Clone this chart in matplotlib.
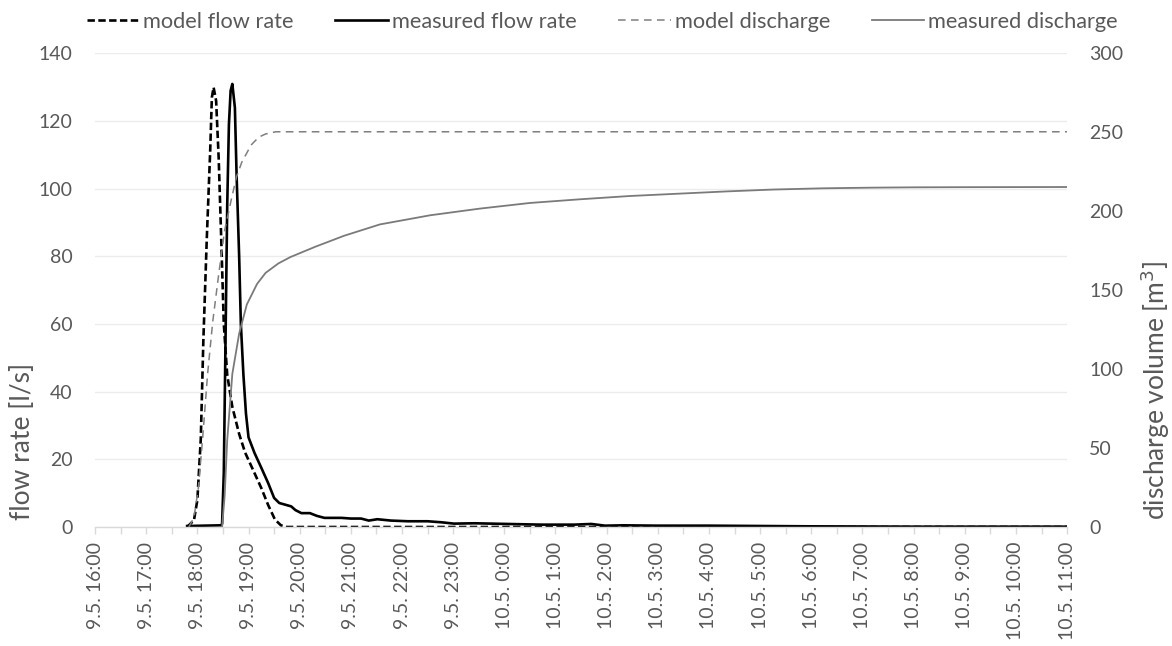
import matplotlib
matplotlib.use("Agg")
import matplotlib.pyplot as plt
import matplotlib.dates as mdates
from matplotlib.ticker import FuncFormatter
import pandas as pd

TIME_FMT = "%d.%m. %H:%M"

# --- flow rate [l/s] -------------------------------------------------------
model_flow_time = [
    "9.5. 17:48", "9.5. 17:56", "9.5. 18:00", "9.5. 18:04", "9.5. 18:07",
    "9.5. 18:11", "9.5. 18:15", "9.5. 18:17", "9.5. 18:19", "9.5. 18:22",
    "9.5. 18:25", "9.5. 18:28", "9.5. 18:31", "9.5. 18:35", "9.5. 18:41",
    "9.5. 18:49", "9.5. 18:56", "9.5. 19:06", "9.5. 19:15", "9.5. 19:23",
    "9.5. 19:31", "9.5. 19:38", "9.5. 19:45", "10.5. 11:00",
]
model_flow = [
    0, 2, 8, 26, 55,
    85, 111, 127, 130, 126,
    109, 85, 60, 45, 35.5,
    27.5, 22, 16.5, 11.5, 6.5,
    2.2, 0.5, 0, 0,
]

measured_flow_time = [
    "9.5. 17:48", "9.5. 18:28", "9.5. 18:29", "9.5. 18:31", "9.5. 18:33",
    "9.5. 18:35", "9.5. 18:37", "9.5. 18:39", "9.5. 18:41", "9.5. 18:44",
    "9.5. 18:46", "9.5. 18:49", "9.5. 18:51", "9.5. 18:54", "9.5. 18:57",
    "9.5. 19:00", "9.5. 19:07", "9.5. 19:15", "9.5. 19:23", "9.5. 19:30",
    "9.5. 19:36", "9.5. 19:43", "9.5. 19:50", "9.5. 19:55", "9.5. 20:02",
    "9.5. 20:12", "9.5. 20:20", "9.5. 20:29", "9.5. 20:49", "9.5. 21:00",
    "9.5. 21:12", "9.5. 21:21", "9.5. 21:31", "9.5. 21:47", "9.5. 22:07",
    "9.5. 22:30", "9.5. 22:46", "9.5. 23:01", "9.5. 23:25", "10.5. 00:04",
    "10.5. 00:43", "10.5. 01:22", "10.5. 01:42", "10.5. 01:58", "10.5. 02:20",
    "10.5. 02:59", "10.5. 04:00", "10.5. 05:00", "10.5. 06:00", "10.5. 07:00",
    "10.5. 08:00", "10.5. 11:00",
]
measured_flow = [
    0.3, 0.5, 1, 16, 55,
    95, 119, 129, 131, 124,
    104, 80, 60, 45, 33.5,
    26.5, 21.9, 17.5, 13, 8.6,
    7.1, 6.6, 6.1, 5, 4.1,
    4.1, 3.3, 2.7, 2.7, 2.5,
    2.5, 1.9, 2.3, 1.9, 1.7,
    1.7, 1.4, 1.0, 1.1, 0.9,
    0.7, 0.7, 0.9, 0.4, 0.5,
    0.4, 0.4, 0.3, 0.2, 0.15,
    0.1, 0.1,
]

# --- discharge volume [m3] -------------------------------------------------
model_volume_time = [
    "9.5. 17:50", "9.5. 17:56", "9.5. 18:01", "9.5. 18:06", "9.5. 18:12",
    "9.5. 18:18", "9.5. 18:25", "9.5. 18:32", "9.5. 18:40", "9.5. 18:46",
    "9.5. 18:52", "9.5. 19:03", "9.5. 19:12", "9.5. 19:20", "9.5. 19:32",
    "10.5. 11:00",
]
model_volume = [
    0, 6, 24, 55, 97,
    130, 160, 188, 208, 222,
    231, 242, 247, 249, 250.4,
    250.4,
]

measured_volume_time = [
    "9.5. 18:29", "9.5. 18:32", "9.5. 18:35", "9.5. 18:41", "9.5. 18:49",
    "9.5. 18:58", "9.5. 19:10", "9.5. 19:20", "9.5. 19:35", "9.5. 19:49",
    "9.5. 20:18", "9.5. 20:52", "9.5. 21:34", "9.5. 22:33", "9.5. 23:31",
    "10.5. 00:30", "10.5. 01:28", "10.5. 02:27", "10.5. 03:25", "10.5. 04:20",
    "10.5. 05:15", "10.5. 06:15", "10.5. 07:12", "10.5. 08:00", "10.5. 09:00",
    "10.5. 11:00",
]
measured_volume = [
    0, 20, 55, 97, 122.5,
    141, 154, 161, 167, 171,
    177.5, 184.5, 191.7, 197.5, 201.7,
    205.3, 207.6, 209.7, 211.2, 212.6,
    213.8, 214.6, 215, 215.2, 215.3,
    215.4,
]

x_start, x_end = "9.5. 16:00", "10.5. 11:00"

series_labels = ["model flow rate", "measured flow rate",
                 "model discharge", "measured discharge"]


def to_time(values):
    return pd.to_datetime(values, format=TIME_FMT)


TEXT = "#595959"
plt.rcParams["font.family"] = ["Lato", "DejaVu Sans"]

fig = plt.figure(figsize=(11.72, 6.46), dpi=100)
ax = fig.add_axes([0.0811, 0.1842, 0.8294, 0.7330])
ax2 = ax.twinx()

l1, = ax.plot(to_time(model_flow_time), model_flow, color="black", lw=1.9,
              linestyle=(0, (2.8, 1.3)), label=series_labels[0])
l2, = ax.plot(to_time(measured_flow_time), measured_flow, color="black", lw=1.9,
              label=series_labels[1])
l3, = ax2.plot(to_time(model_volume_time), model_volume, color="#7f7f7f", lw=1.1,
               linestyle=(0, (5, 3.5)), label=series_labels[2])
l4, = ax2.plot(to_time(measured_volume_time), measured_volume, color="#7a7a7a",
               lw=1.3, label=series_labels[3])

# axes limits and ticks
ax.set_xlim(to_time([x_start])[0], to_time([x_end])[0])
ax.set_ylim(0, 140)
ax.set_yticks(range(0, 141, 20))
ax2.set_ylim(0, 300)
ax2.set_yticks(range(0, 301, 50))

ax.xaxis.set_major_locator(mdates.HourLocator())
ax.xaxis.set_minor_locator(mdates.MinuteLocator(byminute=[30]))


def fmt_time(v, _pos):
    d = mdates.num2date(v)
    return f"{d.day}.{d.month}. {d.hour}:{d.minute:02d}"


ax.xaxis.set_major_formatter(FuncFormatter(fmt_time))

ax.set_axisbelow(True)
ax.yaxis.grid(True, color="#ececec", lw=1.0)

for a in (ax, ax2):
    for side in ("left", "right", "top", "bottom"):
        a.spines[side].set_visible(False)
ax.spines["bottom"].set_visible(True)
ax.spines["bottom"].set_color("#d9d9d9")
ax.spines["bottom"].set_linewidth(1.0)

ax.tick_params(axis="x", which="both", length=5, width=1.0, color="#d9d9d9",
               direction="out", pad=5.5, labelsize=14, labelcolor=TEXT,
               labelrotation=90)
ax.tick_params(axis="y", length=0, pad=16, labelsize=14, labelcolor=TEXT)
ax2.tick_params(axis="y", length=0, pad=16, labelsize=14, labelcolor=TEXT)

fig.text(0.0188, 0.195, "flow rate [l/s]", rotation=90, ha="center", va="bottom",
         fontsize=19, color=TEXT)
fig.text(0.9855, 0.195, "discharge volume [m$^3$]", rotation=90, ha="center",
         va="bottom", fontsize=19, color=TEXT)

leg = fig.legend([l1, l2, l3, l4], series_labels, loc="center",
                 bbox_to_anchor=(0.514, 0.966), ncol=4, frameon=False,
                 handlelength=2.4, handletextpad=0.2, columnspacing=1.9,
                 fontsize=15.7)
for t in leg.get_texts():
    t.set_color(TEXT)

fig.savefig("out.png", dpi=100)
